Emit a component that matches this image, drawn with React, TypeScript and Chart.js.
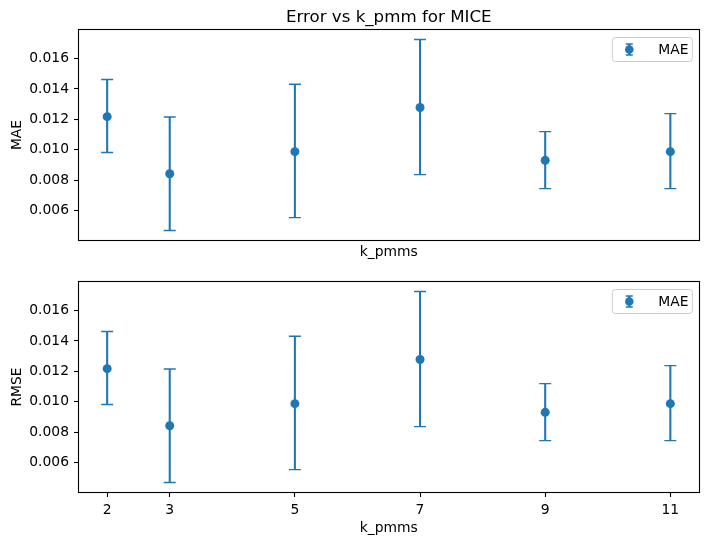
import { useEffect, useRef } from "react";
import { Chart, registerables } from "chart.js";

Chart.register(...registerables);

// ---- data ----
const kPmms = [2, 3, 5, 7, 9, 11];
const xTickValues = [2, 3, 5, 7, 9, 11];
const yTickValues = [0.006, 0.008, 0.01, 0.012, 0.014, 0.016];

const maeMean = [0.01218, 0.00843, 0.00988, 0.01278, 0.00931, 0.00988];
const maeLower = [0.00982, 0.0047, 0.00554, 0.00837, 0.00745, 0.00745];
const maeUpper = [0.01462, 0.01216, 0.01431, 0.01725, 0.0112, 0.01238];

const rmseMean = [0.01218, 0.00843, 0.00988, 0.01278, 0.00931, 0.00988];
const rmseLower = [0.00982, 0.0047, 0.00554, 0.00837, 0.00745, 0.00745];
const rmseUpper = [0.01462, 0.01216, 0.01431, 0.01725, 0.0112, 0.01238];

const titleText = "Error vs k_pmm for MICE";
const legendLabel = "MAE";
const xLabel = "k_pmms";

const BLUE = "#1f77b4";
const FONT = "'DejaVu Sans', sans-serif";
const TICK_PX = 13.89;
const TITLE_PX = 16.67;
const LINE_W = 2.08;
const CAP_W = 1.39;

function range(values: number[][]) {
  const all = values.flat();
  const lo = Math.min(...all);
  const hi = Math.max(...all);
  const pad = (hi - lo) * 0.05;
  return { min: lo - pad, max: hi + pad };
}

function makePlugins(lower: number[], upper: number[], title: string | null) {
  const errorBars = {
    id: "errorBars",
    beforeDatasetsDraw(chart: any) {
      const { ctx, scales } = chart;
      const x = scales.x;
      const y = scales.y;
      ctx.save();
      ctx.strokeStyle = BLUE;
      const cap = 6;
      kPmms.forEach((k, i) => {
        const px = x.getPixelForValue(k);
        const pl = y.getPixelForValue(lower[i]);
        const pu = y.getPixelForValue(upper[i]);
        ctx.lineWidth = LINE_W;
        ctx.beginPath();
        ctx.moveTo(px, pl);
        ctx.lineTo(px, pu);
        ctx.stroke();
        ctx.lineWidth = CAP_W;
        ctx.beginPath();
        ctx.moveTo(px - cap, pu);
        ctx.lineTo(px + cap, pu);
        ctx.moveTo(px - cap, pl);
        ctx.lineTo(px + cap, pl);
        ctx.stroke();
      });
      ctx.restore();
    },
  };
  const frame = {
    id: "frameAndLegend",
    afterDraw(chart: any) {
      const { ctx, chartArea } = chart;
      const { left, right, top, bottom } = chartArea;
      ctx.save();
      // axes box
      ctx.strokeStyle = "#000";
      ctx.lineWidth = 1.1;
      const l = Math.round(left) - 0.5;
      const t = Math.round(top) - 0.5;
      const r = Math.round(right) + 0.5;
      const b = Math.round(bottom) + 0.5;
      ctx.strokeRect(l, t, r - l, b - t);

      // legend
      const bw = 80;
      const bh = 24;
      const bx = right - 6.2 - bw;
      const by = top + 7.5;
      const rad = 3;
      ctx.beginPath();
      ctx.moveTo(bx + rad, by);
      ctx.lineTo(bx + bw - rad, by);
      ctx.arcTo(bx + bw, by, bx + bw, by + rad, rad);
      ctx.lineTo(bx + bw, by + bh - rad);
      ctx.arcTo(bx + bw, by + bh, bx + bw - rad, by + bh, rad);
      ctx.lineTo(bx + rad, by + bh);
      ctx.arcTo(bx, by + bh, bx, by + bh - rad, rad);
      ctx.lineTo(bx, by + rad);
      ctx.arcTo(bx, by, bx + rad, by, rad);
      ctx.closePath();
      ctx.fillStyle = "rgba(255,255,255,0.8)";
      ctx.fill();
      ctx.strokeStyle = "#cccccc";
      ctx.lineWidth = 1;
      ctx.stroke();

      const mx = bx + 17;
      const my = by + bh / 2;
      ctx.strokeStyle = BLUE;
      ctx.lineWidth = LINE_W;
      ctx.beginPath();
      ctx.moveTo(mx, my - 5.5);
      ctx.lineTo(mx, my + 5.5);
      ctx.stroke();
      ctx.lineWidth = CAP_W;
      ctx.beginPath();
      ctx.moveTo(mx - 3.5, my - 5.5);
      ctx.lineTo(mx + 3.5, my - 5.5);
      ctx.moveTo(mx - 3.5, my + 5.5);
      ctx.lineTo(mx + 3.5, my + 5.5);
      ctx.stroke();
      ctx.fillStyle = BLUE;
      ctx.beginPath();
      ctx.arc(mx, my, 4.3, 0, Math.PI * 2);
      ctx.fill();

      ctx.fillStyle = "#000";
      ctx.font = `${TICK_PX}px ${FONT}`;
      ctx.textAlign = "left";
      ctx.textBaseline = "middle";
      ctx.fillText(legendLabel, bx + 46, my + 0.5);

      if (title) {
        ctx.font = `${TITLE_PX}px ${FONT}`;
        ctx.textAlign = "center";
        ctx.textBaseline = "alphabetic";
        ctx.fillText(title, (left + right) / 2, top - 8.3);
      }
      ctx.restore();
    },
  };
  return [errorBars, frame];
}

function Panel(props: {
  mean: number[];
  lower: number[];
  upper: number[];
  yLabel: string;
  showXTicks: boolean;
  title: string | null;
  height: number;
  padTop: number;
  xAxisHeight: number;
  xTitlePadBottom: number;
}) {
  const ref = useRef<HTMLCanvasElement | null>(null);
  useEffect(() => {
    if (!ref.current) return;
    const yr = range([props.lower, props.upper]);
    const xr = range([kPmms]);
    const chart = new Chart(ref.current, {
      type: "scatter",
      data: {
        datasets: [
          {
            label: legendLabel,
            data: kPmms.map((k, i) => ({ x: k, y: props.mean[i] })),
            backgroundColor: BLUE,
            borderWidth: 0,
            pointRadius: 4.5,
            pointHoverRadius: 4.5,
          },
        ],
      },
      options: {
        animation: false,
        responsive: true,
        maintainAspectRatio: false,
        layout: { padding: { top: props.padTop, right: 10.5, left: 0, bottom: 0 } },
        plugins: {
          legend: { display: false },
          tooltip: { enabled: false },
          title: { display: false },
        },
        scales: {
          x: {
            type: "linear",
            min: xr.min,
            max: xr.max,
            afterBuildTicks: (scale: any) => {
              scale.ticks = xTickValues.map((v) => ({ value: v }));
            },
            afterFit: (scale: any) => {
              scale.height = props.xAxisHeight;
            },
            border: { display: false },
            grid: {
              display: true,
              drawOnChartArea: false,
              drawTicks: props.showXTicks,
              tickLength: 5,
              color: "#000",
              tickWidth: 1.1,
            },
            ticks: {
              display: props.showXTicks,
              padding: 5,
              color: "#000",
              font: { family: FONT, size: TICK_PX },
              callback: (v: any) => String(v),
              maxRotation: 0,
            },
            title: {
              display: true,
              text: xLabel,
              color: "#000",
              font: { family: FONT, size: TICK_PX },
              padding: { top: 0, bottom: props.xTitlePadBottom },
            },
          },
          y: {
            type: "linear",
            min: yr.min,
            max: yr.max,
            afterBuildTicks: (scale: any) => {
              scale.ticks = yTickValues.map((v) => ({ value: v }));
            },
            afterFit: (scale: any) => {
              scale.width = 79;
            },
            border: { display: false },
            grid: {
              display: true,
              drawOnChartArea: false,
              drawTicks: true,
              tickLength: 5,
              color: "#000",
              tickWidth: 1.1,
            },
            ticks: {
              padding: 5,
              color: "#000",
              font: { family: FONT, size: TICK_PX },
              callback: (v: any) => Number(v).toFixed(3),
            },
            title: {
              display: true,
              text: props.yLabel,
              color: "#000",
              font: { family: FONT, size: TICK_PX },
              padding: { top: 8.7, bottom: 0 },
            },
          },
        },
      } as any,
      plugins: makePlugins(props.lower, props.upper, props.title) as any,
    });
    return () => chart.destroy();
  }, []);
  return (
    <div style={{ position: "relative", width: 709, height: props.height }}>
      <canvas ref={ref} />
    </div>
  );
}

export default function App() {
  return (
    <div
      style={{
        position: "fixed",
        left: 0,
        top: 0,
        width: 709,
        height: 545,
        background: "#fff",
      }}
    >
      <Panel
        mean={maeMean}
        lower={maeLower}
        upper={maeUpper}
        yLabel="MAE"
        showXTicks={false}
        title={titleText}
        height={262}
        padTop={30}
        xAxisHeight={22}
        xTitlePadBottom={1.7}
      />
      <Panel
        mean={rmseMean}
        lower={rmseLower}
        upper={rmseUpper}
        yLabel="RMSE"
        showXTicks={true}
        title={null}
        height={283}
        padTop={20}
        xAxisHeight={53}
        xTitlePadBottom={8.7}
      />
    </div>
  );
}
